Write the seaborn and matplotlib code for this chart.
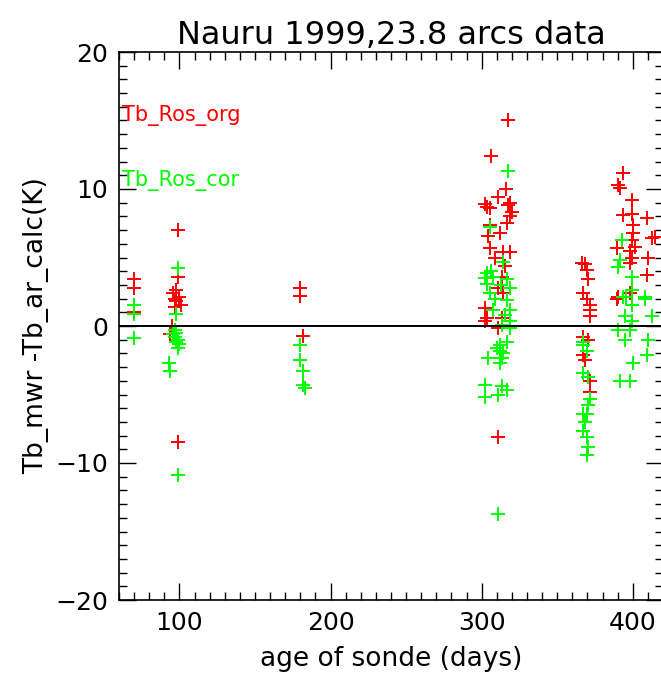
import matplotlib
matplotlib.use("Agg")
import matplotlib.pyplot as plt
import seaborn as sns
import pandas as pd
from matplotlib.ticker import MultipleLocator

# Tb_Ros_org (red) : age of sonde (days), Tb_mwr - Tb_ar_calc (K)
org_day = [70, 70, 70,
           99, 99, 97, 96, 98, 100, 101, 97, 95, 94, 99, 98,
           180, 180, 182,
           317.4, 306.2, 316.1, 303.5, 302.2, 305.5, 310.8, 318.8, 320.1, 317.4,
           318.8, 305.5, 316.8, 304.2, 312.1, 305.5, 314.1, 318.8, 313.5, 310.8,
           314.1, 302.2, 303.5, 313.5, 302.2, 310.8, 310.8, 315.5, 309.0,
           368.5, 369.7, 370.4, 367.1, 369.7, 371.7, 371.7, 371.7, 367.1, 370.4,
           367.1, 368.5, 371.7, 371.7, 366.5,
           393.5, 390.2, 391.5, 399.5, 393.5, 399.5, 409.4, 400.2, 400.2, 412.7,
           399.5, 389.6, 398.2, 401.5, 410.1, 399.5, 398.2, 409.4, 398.2, 390.2,
           389.6, 414.5]
org_tb = [3.4, 2.8, 1.0,
          7.0, 3.6, 2.0, 2.4, 1.8, 2.1, 1.5, 1.4, 0.0, -0.6, -8.5, 2.6,
          2.8, 2.2, -0.7,
          15.0, 12.4, 10.0, 8.7, 8.9, 8.6, 9.4, 9.0, 8.3, 8.8,
          8.0, 7.4, 7.5, 6.6, 6.8, 5.7, 5.4, 5.4, 3.6, 2.8,
          2.4, 1.3, 0.6, 0.6, 0.4, -0.15, -8.1, 4.4, 5.0,
          4.5, 4.1, 3.4, 2.4, 2.0, 1.5, 1.2, 0.7, -0.8, -1.0,
          -2.1, -2.5, -4.0, -4.8, 4.6,
          11.2, 10.3, 10.1, 9.2, 8.1, 8.2, 7.9, 7.4, 6.8, 6.4,
          6.3, 5.7, 5.5, 5.8, 5.0, 5.0, 4.6, 3.7, 2.4, 2.1,
          2.0, 6.5]

# Tb_Ros_cor (green)
cor_day = [70, 70, 70,
           99, 98, 97, 98, 99, 100, 96, 99, 98, 93, 94, 99, 97,
           180, 180, 182, 182, 183,
           317.4, 305.5, 314.1, 303.5, 307.5, 316.8, 303.5, 318.8, 305.5, 316.8,
           307.5, 315.5, 318.8, 318.8, 313.5, 318.8, 312.1, 316.8, 304.2, 313.5,
           312.1, 302.2, 313.5, 316.8, 302.2, 310.8, 310.8, 302.2, 306.2, 309.0,
           313.0, 312.0, 314.0, 310.0,
           367.1, 369.7, 367.1, 370.4, 371.7, 370.4, 367.1, 369.7, 368.5, 367.1,
           369.7, 370.4, 369.7, 367.0,
           392.9, 390.2, 391.5, 399.5, 399.5, 393.5, 408.0, 395.5, 408.0, 399.5,
           394.8, 412.7, 399.5, 390.2, 398.2, 394.8, 410.1, 409.4, 400.2, 391.5,
           398.2]
cor_tb = [1.5, 0.9, -0.9,
          4.2, 0.9, -0.8, -0.5, -1.0, -1.3, -0.6, -1.6, -1.2, -2.7, -3.3, -10.9, -0.3,
          -1.4, -2.5, -3.3, -4.3, -4.5,
          11.3, 7.2, 4.7, 3.9, 3.6, 3.4, 3.1, 2.8, 2.4, 1.9,
          1.2, 0.8, 1.2, 0.4, 0.1, -0.15, -1.4, -1.2, -2.3, -2.3,
          -2.7, -4.3, -4.4, -4.7, -5.2, -5.0, -13.7, 3.5, 4.0, 2.0,
          3.0, -1.8, -2.0, -1.6,
          -1.4, -1.8, -3.4, -3.7, -5.3, -5.8, -6.4, -6.4, -7.0, -7.7,
          -8.1, -8.8, -9.4, -1.2,
          6.3, 4.3, 4.8, 3.6, 2.6, 2.1, 2.1, 2.1, 2.0, 1.5,
          0.7, 0.7, 0.4, -0.3, -0.3, -1.0, -1.0, -2.1, -2.7, -4.0,
          -4.0]

org = pd.DataFrame({"day": org_day, "dtb": org_tb})
cor = pd.DataFrame({"day": cor_day, "dtb": cor_tb})

sns.set_style("ticks")
plt.rcParams['font.family'] = ['DejaVu Sans']
plt.rcParams.update({"text.color": "black", "axes.labelcolor": "black",
                     "xtick.color": "black", "ytick.color": "black"})

fig = plt.figure(figsize=(6.61, 6.75), dpi=100)
ax = fig.add_axes([119 / 661, 1 - 600 / 675, 544 / 661, 548 / 675])

sns.scatterplot(data=org, x="day", y="dtb", marker="+", color="#ff0000",
                s=110, linewidth=1.4, ax=ax, zorder=3)
sns.scatterplot(data=cor, x="day", y="dtb", marker="+", color="#00ff00",
                s=110, linewidth=1.4, ax=ax, zorder=4)

ax.axhline(0, color="black", lw=1.4, zorder=5)

ax.set_xlim(60, 420)
ax.set_ylim(-20, 20)
ax.xaxis.set_major_locator(MultipleLocator(100))
ax.xaxis.set_minor_locator(MultipleLocator(10))
ax.yaxis.set_major_locator(MultipleLocator(10))
ax.yaxis.set_minor_locator(MultipleLocator(1))
ax.tick_params(which="both", direction="in", top=True, right=True,
               color="black", width=1.0, labelsize=18, pad=8)
ax.tick_params(which="major", length=12)
ax.tick_params(which="minor", length=6)
for sp in ax.spines.values():
    sp.set_linewidth(1.2)
    sp.set_color("black")

ax.set_xlabel("age of sonde (days)", fontsize=19, labelpad=8)
ax.set_ylabel("Tb_mwr -Tb_ar_calc(K)", fontsize=19, labelpad=4)
ax.set_title("Nauru 1999,23.8 arcs data", fontsize=23, pad=6)

ax.text(0.005, 0.885, "Tb_Ros_org", color="#ff0000", fontsize=15,
        transform=ax.transAxes, va="center")
ax.text(0.005, 0.765, "Tb_Ros_cor", color="#00ff00", fontsize=15,
        transform=ax.transAxes, va="center")

fig.savefig("out.png", dpi=100)
